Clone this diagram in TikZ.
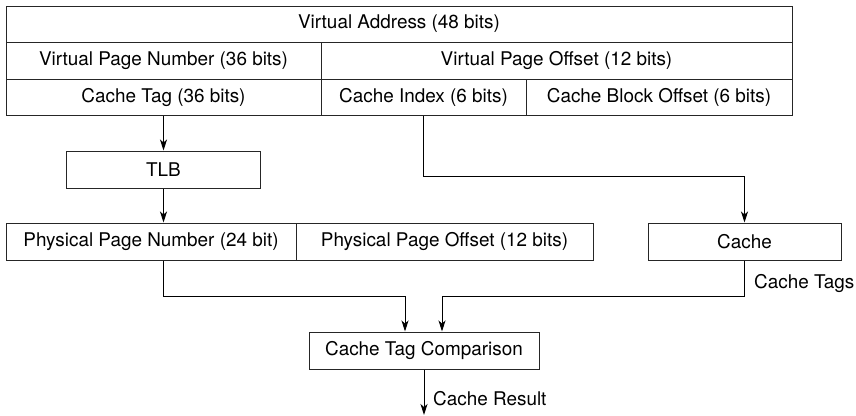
\documentclass[tikz,border=0pt]{standalone}
\usepackage{fontspec}
\setmainfont{TeX Gyre Heros}
\usetikzlibrary{arrows.meta}
\begin{document}
\begin{tikzpicture}[x=1pt,y=-1pt,
  box/.style={draw=black!85, line width=1pt, rectangle, inner sep=0pt, font=\fontsize{18.9}{22}\selectfont},
  lbl/.style={inner sep=0pt, font=\fontsize{18.9}{22}\selectfont},
  arr/.style={draw=black, line width=1pt, -{Stealth[length=11pt,width=7pt,inset=3pt]}}]
\useasboundingbox (0,0) rectangle (856,415);
% top table
\node[box, minimum width=786pt, minimum height=36pt] (va) at (399,24) {Virtual Address (48 bits)};
\node[box, minimum width=315pt, minimum height=37pt] (vpn) at (163.5,60.5) {Virtual Page Number (36 bits)};
\node[box, minimum width=471pt, minimum height=37pt] (vpo) at (556.5,60.5) {Virtual Page Offset (12 bits)};
\node[box, minimum width=315pt, minimum height=36pt] (ctag) at (163.5,97) {Cache Tag (36 bits)};
\node[box, minimum width=205pt, minimum height=36pt] (cidx) at (423.5,97) {Cache Index (6 bits)};
\node[box, minimum width=266pt, minimum height=36pt] (cbo) at (659,97) {Cache Block Offset (6 bits)};
% TLB
\node[box, minimum width=194pt, minimum height=37pt] (tlb) at (163.5,169.5) {TLB};
% physical
\node[box, minimum width=290pt, minimum height=37pt] (ppn) at (151,241.5) {Physical Page Number (24 bit)};
\node[box, minimum width=297pt, minimum height=37pt] (ppo) at (444.5,241.5) {Physical Page Offset (12 bits)};
% cache
\node[box, minimum width=193pt, minimum height=37pt] (cache) at (744.5,241.5) {Cache};
% comparison
\node[box, minimum width=230pt, minimum height=37pt] (ctc) at (424,350.5) {Cache Tag Comparison};
% labels
\node[lbl, anchor=west] (tagslbl) at (754,283) {Cache Tags};
\node[lbl, anchor=west] (reslbl) at (433,399) {Cache Result};
\coordinate (out) at (424,415);
% connectors
\draw[arr] (ctag.south) -- (tlb.north);
\draw[arr] (tlb.south) -- (tlb.south |- ppn.north);
\draw[arr] (cidx.south) -- ++(0,60.5) -| (cache.north);
\draw[arr] (tlb.south |- ppn.south) -- ++(0,36) -| ([xshift=-19pt]ctc.north);
\draw[arr] (cache.south) -- ++(0,36) -| ([xshift=18pt]ctc.north);
\draw[arr] (ctc.south) -- (out);
\end{tikzpicture}
\end{document}
